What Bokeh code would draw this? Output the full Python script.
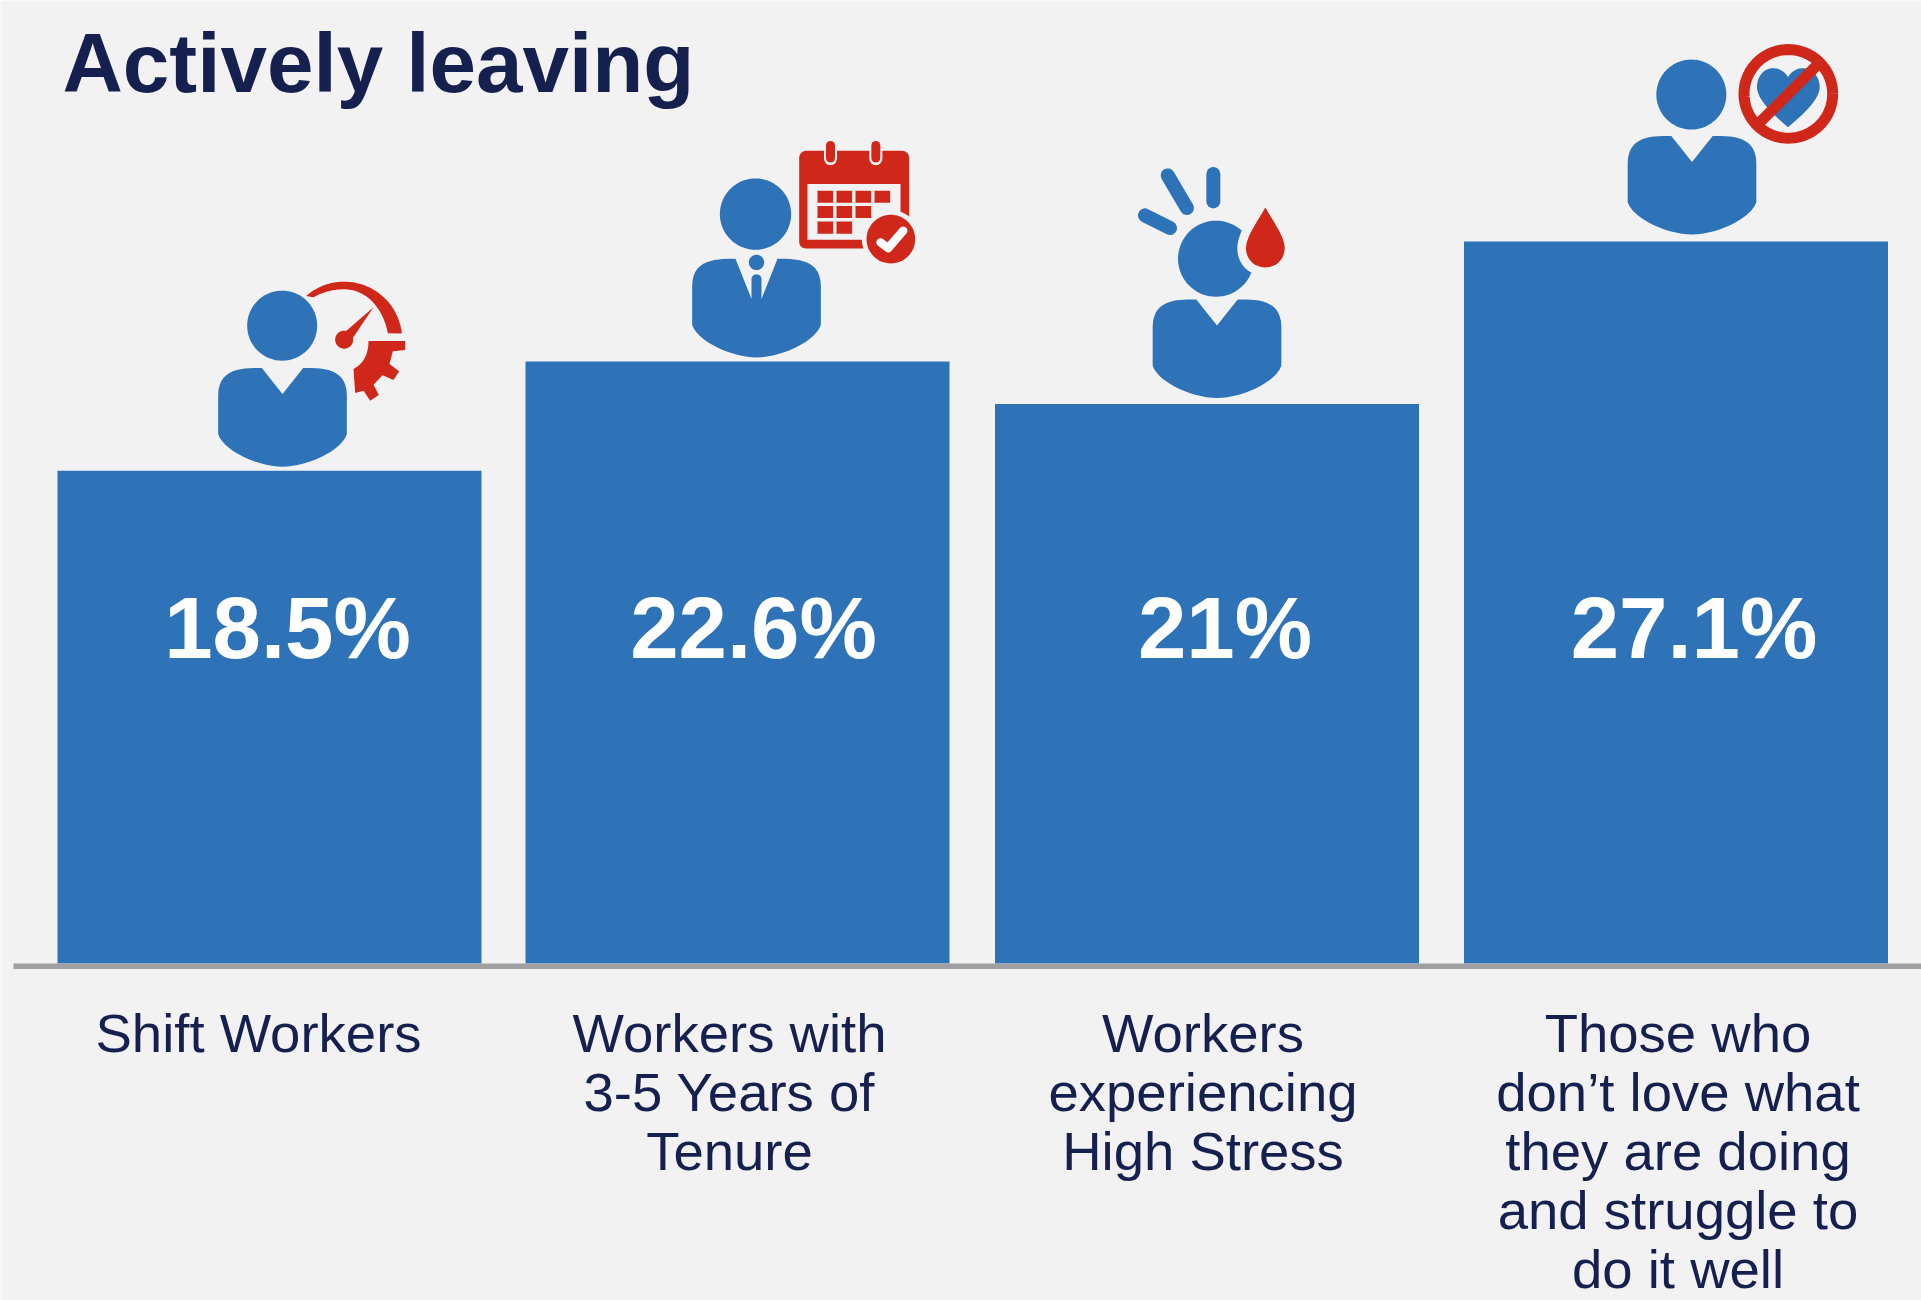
import math
from bokeh.core.properties import value
from bokeh.embed import file_html
from bokeh.models import Range1d
from bokeh.plotting import figure
from bokeh.resources import INLINE

TITLE = "Actively leaving"
CATEGORIES = [
    ["Shift Workers"],
    ["Workers with", "3-5 Years of", "Tenure"],
    ["Workers", "experiencing", "High Stress"],
    ["Those who", "don\u2019t love what", "they are doing", "and struggle to", "do it well"],
]
SHARE_PCT = [18.5, 22.6, 21, 27.1]

W, H = 1921, 1300
BASE_PX = 963.0          # screen row of the zero line
PX_PER_UNIT = 26.64      # screen pixels per percentage point
BAR_CENTERS = [269.0, 737.0, 1206.5, 1675.5]
BAR_WIDTH = 424

BLUE = "#2e73b8"
RED = "#d0271b"
BG = "#f2f2f2"
NAVY = "#16204f"
GREY = "#a0a0a2"
SANS = "Liberation Sans"

p = figure(
    width=W, height=H, output_backend="svg", toolbar_location=None,
    x_range=Range1d(0, W),
    y_range=Range1d(-(H - BASE_PX) / PX_PER_UNIT, BASE_PX / PX_PER_UNIT),
    min_border=0, border_fill_color=BG, background_fill_color=BG,
    outline_line_color=None,
)
p.axis.visible = False
p.grid.visible = False

p.vbar(x=BAR_CENTERS, top=SHARE_PCT, bottom=0, width=BAR_WIDTH,
       fill_color=BLUE, line_color=None)
rule_y = -2.7 / PX_PER_UNIT
p.segment(x0=[13], x1=[W], y0=[rule_y], y1=[rule_y], line_color=GREY, line_width=5.5)

# Values inside the bars
p.text(x=BAR_CENTERS, y=[0] * 4, text=[f"{v}%" for v in SHARE_PCT],
       x_offset=[18, 16, 18, 18], y_offset=[-336] * 4,
       text_font=value(SANS), text_font_style="bold", text_font_size="87px",
       text_color="white", text_align="center", text_baseline="middle")

# Category captions, one text per line
LABEL_SHIFT = [-11, -8, -4, 2]
for xc, dx, lines in zip(BAR_CENTERS, LABEL_SHIFT, CATEGORIES):
    p.text(x=[xc] * len(lines), y=[0] * len(lines), text=lines,
           x_offset=[dx] * len(lines),
           y_offset=[69.5 + 59 * i for i in range(len(lines))],
           text_font=value(SANS), text_font_size="54.5px", text_color=NAVY,
           text_align="center", text_baseline="middle")

p.text(x=[62], y=[0], text=[TITLE], x_offset=[0], y_offset=[-901],
       text_font=value(SANS), text_font_style="bold", text_font_size="83.6px",
       text_color=NAVY, text_align="left", text_baseline="middle")


def bez(p0, c0, c1, p1, n=14):
    out = []
    for i in range(1, n + 1):
        t = i / n
        u = 1 - t
        out.append((
            u**3 * p0[0] + 3 * u*u*t * c0[0] + 3 * u*t*t * c1[0] + t**3 * p1[0],
            u**3 * p0[1] + 3 * u*u*t * c0[1] + 3 * u*t*t * c1[1] + t**3 * p1[1],
        ))
    return out


def ring(cx, cy, r, n=72):
    return [(cx + r * math.cos(2 * math.pi * i / n),
             cy + r * math.sin(2 * math.pi * i / n)) for i in range(n)]


def arc_pts(cx, cy, r, a0, a1, n=40):
    return [(cx + r * math.cos(math.radians(a0 + (a1 - a0) * i / n)),
             cy + r * math.sin(math.radians(a0 + (a1 - a0) * i / n))) for i in range(n + 1)]


class Icon:
    """Draws in a 3x sketch space whose origin is tied to the top of a bar."""

    def __init__(self, bar, ox, oy, gap, shift):
        self.xc = BAR_CENTERS[bar] + shift
        self.top = SHARE_PCT[bar]
        self.ox, self.oy, self.gap = ox, oy, gap

    def xy(self, pts):
        xs = [self.xc + (a - self.ox) / 3 for a, _ in pts]
        ys = [self.top + ((self.oy - b) / 3 + self.gap) / PX_PER_UNIT for _, b in pts]
        return xs, ys

    def fill(self, pts, color):
        xs, ys = self.xy(pts)
        p.patch(xs, ys, fill_color=color, line_color=None)

    def stroke(self, pts, color, width, cap="round"):
        xs, ys = self.xy(pts)
        p.line(xs, ys, line_color=color, line_width=width, line_cap=cap,
               line_join="round")

    def body(self, notch, half_neck=62):
        ox, oy = self.ox, self.oy
        pts = [(ox - half_neck, oy - 296)]
        pts += bez(pts[-1], (ox - 120, oy - 296), (ox - 192, oy - 296), (ox - 193, oy - 215))
        pts += [(ox - 193, oy - 97)]
        pts += bez(pts[-1], (ox - 175, oy - 45), (ox - 70, oy), (ox, oy))
        pts += bez(pts[-1], (ox + 70, oy), (ox + 175, oy - 45), (ox + 193, oy - 97))
        pts += [(ox + 193, oy - 215)]
        pts += bez(pts[-1], (ox + 192, oy - 296), (ox + 120, oy - 296), (ox + half_neck, oy - 296))
        pts += notch(ox, oy)
        self.fill(pts, BLUE)

    def head(self, cx, cy, r=105):
        self.fill(ring(cx, cy, r), BLUE)


def v_neck(ox, oy):
    return [(ox, oy - 218)]


def suit_neck(ox, oy):
    pts = [(ox + 15, oy - 175), (ox + 15, oy - 235)]
    pts += bez(pts[-1], (ox + 15, oy - 254), (ox - 15, oy - 254), (ox - 15, oy - 235))
    pts += [(ox - 15, oy - 175)]
    return pts


# Shift workers: person with a gauge and cog
a = Icon(0, 247, 618, 4, 13)
a.body(v_neck)
a.head(246, 195)
arc = arc_pts(432, 237, 174, 229, 354)
arc += [(563, 218)]
arc += bez(arc[-1], (550, 145), (500, 87), (435, 86))
arc += bez(arc[-1], (400, 85), (365, 95), (340, 110))
a.fill(arc, RED)
a.fill(ring(432, 237, 27), RED)
a.fill([(520, 140), (437, 212), (458, 232)], RED)
gear = [(505, 241), (615, 241), (615, 268), (578, 272), (568, 310), (597, 332),
        (580, 358), (547, 344), (520, 372), (536, 403), (510, 420), (490, 390),
        (465, 397), (460, 325)]
gear += bez(gear[-1], (490, 310), (505, 280), (505, 241))
a.fill(gear, RED)

# Tenure: suited person with a calendar
b = Icon(1, 260, 680, 4, 19)
b.body(suit_neck, 63)
b.head(257, 250, 107)
b.fill(ring(260, 395, 23), BLUE)
cal = [(410, 60), (696, 60)]
cal += bez(cal[-1], (710, 60), (718, 70), (718, 82))
cal += [(718, 332)]
cal += bez(cal[-1], (718, 345), (710, 353), (696, 353))
cal += [(410, 353)]
cal += bez(cal[-1], (396, 353), (388, 345), (388, 332))
cal += [(388, 82)]
cal += bez(cal[-1], (388, 70), (396, 60), (410, 60))
b.fill(cal, RED)
b.fill([(413, 160), (692, 160), (692, 327), (413, 327)], BG)
for ring_x in (482, 618):
    b.stroke([(ring_x, 44), (ring_x, 84)], BG, 13)
    b.stroke([(ring_x, 44), (ring_x, 82)], RED, 9)
ROWS = [(180, 216, 4), (226, 262, 3), (272, 309, 2)]
COLS = [(443, 490), (500, 547), (557, 604), (614, 661)]
for y0, y1, cells in ROWS:
    for x0, x1 in COLS[:cells]:
        b.fill([(x0, y0), (x1, y0), (x1, y1), (x0, y1)], RED)
b.fill(ring(663, 325, 87), BG)
b.fill(ring(663, 325, 73), RED)
b.stroke([(632, 335), (655, 352), (700, 300)], "white", 8.5)

# High stress: person with strain marks and a drop
c = Icon(2, 288, 740, 6, 10)
c.body(v_neck)
c.head(285, 322, 114)


def drop(scale):
    cx, cy = 433, 290
    tip = (cx, cy - 122 * scale)
    pts = [tip]
    pts += bez(tip, (cx + 20 * scale, cy - 85 * scale), (cx + 58 * scale, cy - 35 * scale), (cx + 58 * scale, cy))
    pts += bez(pts[-1], (cx + 58 * scale, cy + 35 * scale), (cx + 32 * scale, cy + 58 * scale), (cx, cy + 58 * scale))
    pts += bez(pts[-1], (cx - 32 * scale, cy + 58 * scale), (cx - 58 * scale, cy + 35 * scale), (cx - 58 * scale, cy))
    pts += bez(pts[-1], (cx - 58 * scale, cy - 35 * scale), (cx - 20 * scale, cy - 85 * scale), tip)
    return pts


c.fill(drop(1.45), BG)
c.fill(drop(1.0), RED)
c.stroke([(277, 68), (277, 150)], BLUE, 14)
c.stroke([(140, 72), (198, 170)], BLUE, 14)
c.stroke([(72, 192), (147, 230)], BLUE, 14)

# Lack of passion: person with a struck-out heart
d = Icon(3, 277, 612, 7, 16)
d.body(v_neck)
d.head(275, 192)
heart = [(565, 140)]
heart += bez(heart[-1], (550, 115), (530, 113), (520, 113))
heart += bez(heart[-1], (490, 113), (472, 140), (472, 170))
heart += bez(heart[-1], (472, 210), (530, 260), (565, 290))
heart += bez(heart[-1], (600, 260), (660, 210), (660, 170))
heart += bez(heart[-1], (660, 140), (640, 113), (610, 113))
heart += bez(heart[-1], (600, 113), (580, 115), (565, 140))
d.fill(heart, BLUE)
d.stroke(ring(566, 190, 133, 96) + [(699, 190)], RED, 11, "butt")
d.stroke([(472, 284), (660, 96)], RED, 11, "butt")

open("out.html", "w").write(file_html(p, INLINE))
